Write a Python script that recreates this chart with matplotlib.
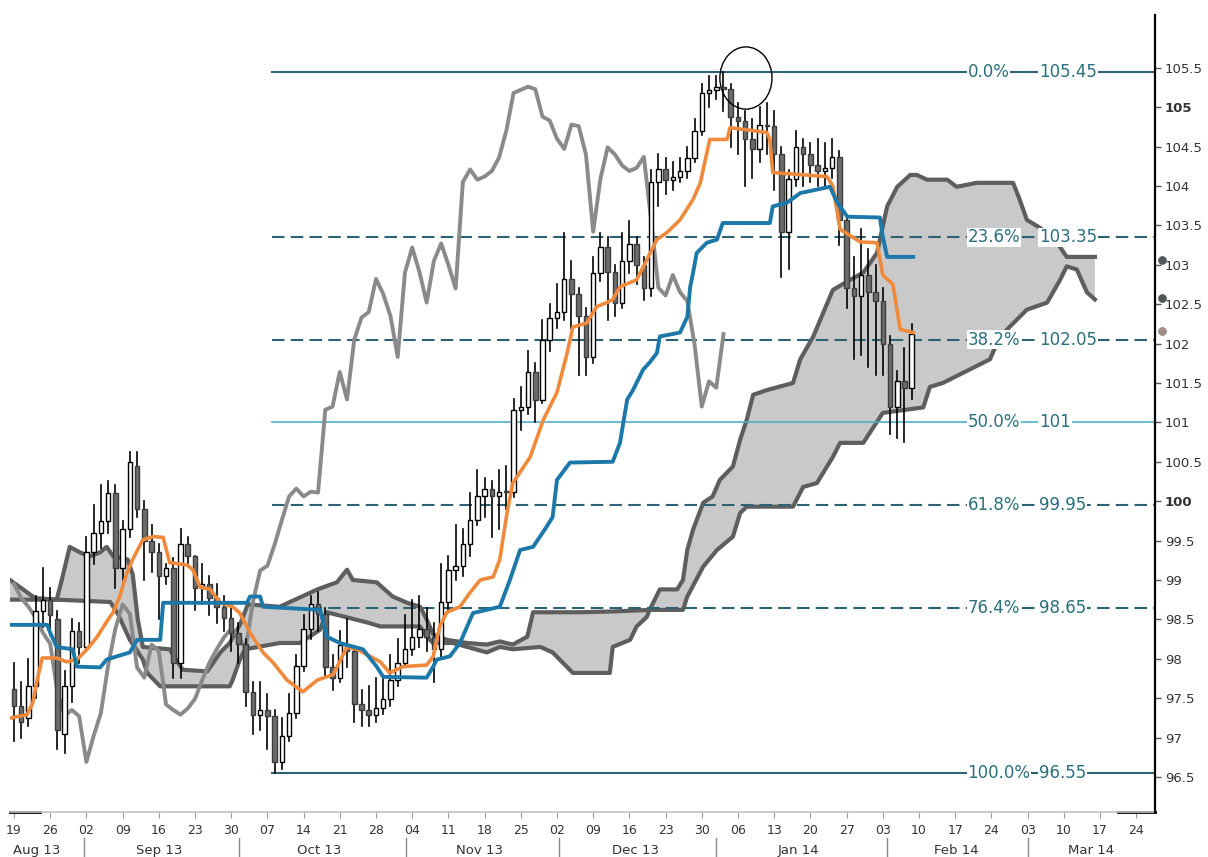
import numpy as np
import matplotlib.pyplot as plt
import matplotlib.transforms as mtransforms
from matplotlib.patches import Rectangle, Ellipse

# daily candles, bar 0 = Mon 19 Aug 2013, 5 bars per week
opens = [97.62, 97.40, 97.25, 97.65, 98.60, 98.75, 98.50, 97.05, 97.65, 98.35,
         98.15, 99.35, 99.60, 99.75, 100.10, 99.15, 99.65, 100.45, 99.90, 99.50,
         99.35, 99.05, 99.15, 97.95, 99.45, 99.30,
         98.90, 98.95, 98.77, 98.66, 98.52, 98.33, 98.19, 97.58, 97.28, 97.35,
         97.27, 96.69, 97.02, 97.31, 97.91, 98.38, 98.69, 98.57, 97.89, 97.76,
         98.18, 98.10, 97.42, 97.35, 97.29, 97.37, 97.49, 97.73, 97.95, 98.12,
         98.27, 98.38, 98.28, 98.13, 98.72, 99.12, 99.18, 99.45, 99.76, 100.06,
         100.16, 100.06, 100.12, 100.11, 101.16, 101.20, 101.64, 101.29, 102.05, 102.33,
         102.40, 102.82, 102.63, 102.35, 101.83, 102.90, 103.22, 102.91, 102.52, 103.05,
         103.27, 103.00, 102.70, 104.05, 104.21, 104.08, 104.12, 104.19, 104.36, 104.70,
         105.18, 105.22, 105.26, 105.23, 104.88, 104.83, 104.60, 104.47, 104.78, 104.76,
         104.40, 103.42, 104.09, 104.49, 104.40, 104.26, 104.19, 104.23, 104.37, 103.57,
         102.71, 102.61, 102.87, 102.65, 102.54, 101.99, 101.20, 101.52, 101.44]
highs = [97.95, 97.70, 98.00, 98.80, 99.15, 98.90, 98.60, 97.85, 98.50, 98.45,
         99.55, 99.95, 100.20, 100.25, 100.20, 99.75, 100.62, 100.62, 100.00, 99.70,
         99.45, 99.20, 99.28, 99.65, 99.55, 99.30,
         99.20, 99.05, 98.95, 98.80, 98.65, 98.45, 98.25, 97.70, 97.70, 97.55,
         97.35, 97.25, 97.55, 98.05, 98.55, 98.80, 98.85, 98.65, 98.05, 98.35,
         98.50, 98.15, 97.60, 97.65, 97.75, 97.80, 98.05, 98.25, 98.55, 98.75,
         98.80, 98.65, 98.45, 99.20, 99.30, 99.70, 99.65, 100.10, 100.40, 100.30,
         100.25, 100.40, 100.45, 101.30, 101.45, 101.90, 101.75, 102.30, 102.50, 102.75,
         103.40, 103.05, 102.70, 102.45, 103.10, 103.40, 103.35, 103.00, 103.40, 103.55,
         103.35, 103.10, 104.20, 104.40, 104.35, 104.30, 104.35, 104.50, 104.85, 105.30,
         105.40, 105.40, 105.45, 105.30, 105.05, 104.95, 104.85, 105.00, 105.05, 104.95,
         104.50, 104.20, 104.70, 104.60, 104.55, 104.60, 104.55, 104.60, 104.45, 103.60,
         103.10, 103.45, 103.20, 103.00, 102.70, 102.10, 101.65, 101.95, 102.25]
lows = [96.95, 97.00, 97.15, 97.50, 98.40, 98.30, 96.85, 96.80, 97.45, 97.95,
        98.10, 99.20, 99.40, 99.60, 98.90, 99.00, 99.55, 99.80, 99.00, 99.10,
        98.50, 98.95, 97.75, 97.75, 99.20, 98.62,
        98.70, 98.55, 98.45, 98.35, 98.10, 97.95, 97.40, 97.05, 97.10, 96.85,
        96.55, 96.60, 96.95, 97.25, 97.85, 98.25, 98.35, 97.75, 97.60, 97.70,
        97.90, 97.20, 97.15, 97.15, 97.20, 97.30, 97.40, 97.65, 97.90, 98.05,
        98.15, 98.10, 97.70, 98.00, 98.60, 99.00, 99.05, 99.30, 99.70, 99.80,
        99.55, 99.65, 99.90, 100.05, 100.90, 101.10, 101.00, 101.25, 101.90, 102.20,
        102.30, 102.20, 101.60, 101.60, 101.75, 102.80, 102.30, 102.35, 102.45, 102.90,
        102.75, 102.55, 102.60, 103.75, 103.90, 103.95, 104.05, 104.10, 104.30, 104.65,
        105.00, 105.10, 104.95, 104.50, 104.40, 104.00, 104.10, 104.30, 104.40, 103.95,
        102.85, 102.95, 104.00, 104.00, 104.05, 104.00, 104.00, 104.10, 103.25, 102.45,
        101.80, 101.85, 101.70, 101.60, 101.60, 100.85, 100.80, 100.75, 101.30]
closes = [97.40, 97.20, 97.65, 98.60, 98.75, 98.55, 97.10, 97.65, 98.35, 98.15,
          99.35, 99.60, 99.75, 100.10, 99.15, 99.65, 100.50, 99.90, 99.50, 99.35,
          99.05, 99.15, 97.95, 99.45, 99.30, 98.90,
          98.95, 98.77, 98.66, 98.52, 98.33, 98.19, 97.58, 97.28, 97.35, 97.27,
          96.69, 97.02, 97.31, 97.91, 98.38, 98.69, 98.57, 97.89, 97.76, 98.18,
          98.10, 97.42, 97.35, 97.29, 97.37, 97.49, 97.73, 97.95, 98.12, 98.27,
          98.38, 98.28, 98.13, 98.72, 99.12, 99.18, 99.45, 99.76, 100.06, 100.16,
          100.06, 100.12, 100.11, 101.16, 101.20, 101.64, 101.29, 102.05, 102.33, 102.40,
          102.82, 102.63, 102.35, 101.83, 102.90, 103.22, 102.91, 102.52, 103.05, 103.27,
          103.00, 102.70, 104.05, 104.21, 104.08, 104.12, 104.19, 104.36, 104.70, 105.18,
          105.22, 105.26, 105.23, 104.88, 104.83, 104.60, 104.47, 104.78, 104.76, 104.40,
          103.42, 104.09, 104.49, 104.40, 104.26, 104.19, 104.23, 104.37, 103.57, 102.71,
          102.61, 102.87, 102.65, 102.54, 101.99, 101.20, 101.52, 101.44, 102.12]
chikou_shift = 26

# Tenkan-sen (orange), bar position / price
tenkan_x = [-0.3, 1.8, 2.6, 3.2, 3.9, 5.9, 7.3, 8.7, 10.1, 11.5, 12.8, 13.7, 14.6, 15.6, 16.4,
            17.8, 19.2, 20.6, 21.5, 23.9, 24.7, 25.7, 27.1, 28.5, 30.2, 31.2, 32.6, 34.4, 35.8,
            37.7, 39.9, 41.9, 44.1, 46.0, 47.4, 49.2, 50.6, 51.9, 53.7, 57.0, 57.9, 58.8, 59.8,
            61.6, 63.0, 64.4, 66.2, 67.1, 68.1, 68.9, 71.3, 73.1, 75.0, 76.4, 77.2, 79.1, 80.5,
            81.9, 82.7, 83.7, 86.0, 87.4, 88.8, 90.2, 92.0, 93.8, 94.8, 96.1, 98.5, 98.9, 104.0,
            104.4, 104.8, 112.3, 113.1, 114.1, 116.9, 119.2, 120.0, 121.4, 122.4, 124.2]
tenkan_y = [97.25, 97.29, 97.44, 97.73, 98.01, 98.01, 97.96, 97.99, 98.12, 98.28, 98.47, 98.59,
            98.79, 99.09, 99.26, 99.51, 99.55, 99.54, 99.22, 99.19, 99.13, 98.91, 98.88, 98.71,
            98.66, 98.58, 98.33, 98.08, 97.95, 97.73, 97.58, 97.73, 97.80, 98.15, 98.12, 98.03,
            97.96, 97.82, 97.90, 97.92, 98.03, 98.41, 98.59, 98.66, 98.84, 99.00, 99.04, 99.26,
            99.85, 100.23, 100.56, 101.03, 101.38, 101.88, 102.21, 102.26, 102.47, 102.52, 102.56,
            102.72, 102.81, 103.06, 103.32, 103.41, 103.57, 103.83, 104.04, 104.59, 104.59, 104.74,
            104.68, 104.59, 104.17, 104.12, 104.00, 103.45, 103.29, 103.28, 102.87, 102.75,
            102.18, 102.14]

# Kijun-sen (blue)
kijun_x = [-0.55, 4.6, 5.0, 5.9, 8.1, 8.7, 11.9, 12.8, 14.2, 16.0, 17.0, 20.2, 20.6, 32.2, 32.6,
           34.0, 34.4, 42.3, 43.2, 45.0, 48.2, 50.1, 51.0, 57.0, 57.9, 58.4, 60.2, 61.6, 63.4,
           67.1, 68.5, 69.9, 71.7, 73.6, 74.4, 75.0, 76.8, 82.7, 83.7, 84.7, 85.5, 86.9, 87.8,
           88.8, 89.2, 92.0, 93.0, 93.4, 93.8, 94.3, 95.7, 97.1, 97.9, 104.4, 104.8, 106.8, 108.6,
           112.7, 113.7, 115.1, 119.6, 120.0, 120.6, 124.2]
kijun_y = [98.43, 98.43, 98.33, 98.15, 98.12, 97.90, 97.89, 97.99, 98.03, 98.08, 98.24, 98.24,
           98.71, 98.71, 98.79, 98.79, 98.66, 98.62, 98.28, 98.20, 98.12, 97.90, 97.77, 97.76,
           97.90, 97.99, 98.03, 98.20, 98.58, 98.66, 99.00, 99.38, 99.42, 99.68, 99.80, 100.27,
           100.49, 100.50, 100.74, 101.29, 101.41, 101.67, 101.76, 101.88, 102.09, 102.14, 102.34,
           102.72, 102.90, 103.15, 103.28, 103.32, 103.53, 103.53, 103.74, 103.79, 103.91, 103.99,
           103.79, 103.61, 103.60, 103.36, 103.10, 103.10]

# cloud edges (upper and lower envelope of the two senkou spans)
cloud_top_x = [-0.55, 2.9, 5.9, 6.6, 7.7, 9.1, 10.5, 11.9, 12.8, 13.7, 15.7, 16.4, 17.1, 17.8,
               21.5, 23.3, 26.7, 28.5, 29.8, 31.2, 32.3, 36.7, 41.9, 44.6, 46.0, 46.8, 50.1, 52.3,
               54.3, 56.1, 57.0, 57.9, 59.8, 62.6, 65.3, 67.1, 68.9, 70.9, 71.7, 78.2, 82.7, 87.8,
               89.2, 91.6, 92.4, 93.0, 93.8, 95.2, 96.5, 97.5, 99.3, 100.3, 101.2, 102.1, 104.0,
               107.6, 108.6, 110.4, 113.1, 115.5, 117.3, 119.2, 120.6, 122.0, 123.8, 124.7, 126.1,
               128.9, 130.2, 133.0, 138.0, 138.9, 139.9, 141.7, 143.8, 145.4, 149.3]
cloud_top_y = [99.00, 98.77, 98.75, 99.00, 99.42, 99.35, 99.30, 99.35, 99.42, 99.30, 99.26, 99.07,
               98.50, 98.15, 98.12, 97.86, 97.84, 98.08, 98.20, 98.43, 98.69, 98.66, 98.88, 98.97,
               99.13, 99.00, 98.97, 98.79, 98.71, 98.66, 98.50, 98.31, 98.24, 98.20, 98.18, 98.22,
               98.18, 98.28, 98.59, 98.59, 98.60, 98.62, 98.88, 98.88, 99.00, 99.38, 99.64, 99.98,
               100.06, 100.27, 100.44, 100.78, 101.03, 101.35, 101.41, 101.50, 101.80, 102.09,
               102.68, 102.81, 102.90, 103.15, 103.74, 103.99, 104.14, 104.14, 104.08, 104.08,
               103.99, 104.04, 104.04, 103.83, 103.57, 103.47, 103.32, 103.10, 103.10]
cloud_bot_x = [-0.55, 5.9, 13.3, 14.4, 16.0, 17.8, 18.4, 20.2, 29.8, 30.2, 31.2, 31.9, 36.7, 39.5,
               42.3, 43.2, 48.8, 50.6, 56.1, 57.0, 57.9, 60.6, 62.6, 65.3, 67.1, 68.9, 72.7, 74.4,
               77.2, 82.3, 82.7, 85.1, 86.0, 87.4, 87.8, 92.4, 93.0, 95.2, 97.1, 99.3, 100.3, 101.2,
               107.6, 109.0, 110.9, 113.1, 114.1, 117.3, 120.0, 125.6, 126.5, 128.3, 134.8, 136.2,
               139.9, 142.7, 144.5, 145.4, 146.8, 148.2, 149.3]
cloud_bot_y = [98.75, 98.75, 98.72, 98.56, 98.24, 97.99, 97.82, 97.65, 97.65, 97.73, 97.99, 98.12,
               98.20, 98.20, 98.37, 98.59, 98.46, 98.41, 98.41, 98.28, 98.20, 98.20, 98.15, 98.08,
               98.15, 98.12, 98.15, 98.08, 97.82, 97.82, 98.15, 98.24, 98.41, 98.53, 98.62, 98.62,
               98.79, 99.17, 99.38, 99.55, 99.85, 99.93, 99.93, 100.18, 100.23, 100.56, 100.74,
               100.74, 101.12, 101.19, 101.45, 101.50, 101.80, 102.09, 102.43, 102.52, 102.81,
               102.98, 102.94, 102.65, 102.56]

# fibonacci retracement
fib_pcts = ['0.0%', '23.6%', '38.2%', '50.0%', '61.8%', '76.4%', '100.0%']
fib_levels = [105.45, 103.35, 102.05, 101.0, 99.95, 98.65, 96.55]
fib_values = ['105.45', '103.35', '102.05', '101', '99.95', '98.65', '96.55']
fib_styles = ['-', '--', '--', '-', '--', '--', '-']
fib_colors = ['#2d6272', '#2d6272', '#2d6272', '#4fb0c8', '#2d6272', '#2d6272', '#2d6272']
fib_start = 35.6

week_labels = ['19', '26', '02', '09', '16', '23', '30', '07', '14', '21', '28', '04', '11', '18',
               '25', '02', '09', '16', '23', '30', '06', '13', '20', '27', '03', '10', '17', '24',
               '03', '10', '17', '24']
month_names = ['Aug 13', 'Sep 13', 'Oct 13', 'Nov 13', 'Dec 13', 'Jan 14', 'Feb 14', 'Mar 14']
month_centers = [3.2, 20.0, 42.2, 64.3, 85.9, 108.3, 130.1, 148.8]
month_breaks = [9.7, 31.1, 54.1, 75.3, 97.0, 120.6, 140.1]

end_marks = [103.06, 102.58, 102.16]
end_colors = ['#555555', '#555555', '#a38c82']

fig = plt.figure(figsize=(12.08, 8.57), dpi=100)
ax = fig.add_axes([10 / 1208, 45 / 857, 1145 / 1208, 797 / 857])
ax.set_xlim(-0.55, 157.6)
ax.set_ylim(96.055, 106.17)

# cloud
poly_x = np.concatenate([cloud_top_x, cloud_bot_x[::-1]])
poly_y = np.concatenate([cloud_top_y, cloud_bot_y[::-1]])
ax.fill(poly_x, poly_y, color='#c9c9c9', lw=0, zorder=1)
ax.plot(cloud_top_x, cloud_top_y, color='#5e5e5e', lw=3, zorder=2)
ax.plot(cloud_bot_x, cloud_bot_y, color='#5e5e5e', lw=3, zorder=2)

# fib lines and labels
for pct, lvl, txt, ls, col in zip(fib_pcts, fib_levels, fib_values, fib_styles, fib_colors):
    lw = 1.2 if pct == '50.0%' else 1.5
    ax.plot([fib_start, 157.6], [lvl, lvl], color=col, lw=lw, ls=ls, dashes=(6, 3) if ls == '--' else (None, None), zorder=2.5)
    ax.text(131.7, lvl, pct, color='#2a6f7c', fontsize=12, ha='left', va='center', zorder=7,
            bbox=dict(facecolor='white', edgecolor='none', pad=0.5))
    ax.text(141.6, lvl, txt, color='#2a6f7c', fontsize=12, ha='left', va='center', zorder=7,
            bbox=dict(facecolor='white', edgecolor='none', pad=0.5))

# chikou span
chikou_x = np.arange(chikou_shift, len(closes)) - chikou_shift
ax.plot(chikou_x, closes[chikou_shift:], color='#8a8a8a', lw=2.8, zorder=3)

# candles
w = 0.62
for i, (o, h, l, c) in enumerate(zip(opens, highs, lows, closes)):
    ax.plot([i, i], [l, h], color='black', lw=1.2, zorder=4)
    lo = min(o, c)
    hgt = max(abs(c - o), 0.02)
    if c >= o:
        fc, ec = 'white', 'black'
    else:
        fc, ec = '#6c6c6c', '#3c3c3c'
    ax.add_patch(Rectangle((i - w / 2, lo), w, hgt, facecolor=fc, edgecolor=ec, lw=1, zorder=4.5))

ax.plot(tenkan_x, tenkan_y, color='#ef8a3c', lw=2.6, zorder=5)
ax.plot(kijun_x, kijun_y, color='#1b78a8', lw=2.8, zorder=5)

ax.add_patch(Ellipse((101.1, 105.37), 7.2, 0.79, fill=False, edgecolor='black', lw=1, zorder=6))

# last value markers beside the price axis
ax.plot([158.6] * 3, end_marks, 'o', ms=6, mec='none', clip_on=False, zorder=8)
for v, col in zip(end_marks, end_colors):
    ax.plot(158.6, v, 'o', ms=6, color=col, mec='none', clip_on=False, zorder=8)

# axes styling
for s in ['left', 'top']:
    ax.spines[s].set_visible(False)
ax.spines['right'].set_color('black')
ax.spines['right'].set_linewidth(1.6)
ax.spines['bottom'].set_color('#c4c4c4')
ax.spines['bottom'].set_linewidth(1.2)
ax.spines['bottom'].set_linestyle((0, (2, 1)))

yt = np.arange(96.5, 105.51, 0.5)
ax.yaxis.tick_right()
ax.set_yticks(yt)
ax.set_yticklabels([('%d' % v) if v == int(v) else ('%.1f' % v) for v in yt], fontsize=9.5, color='#333333')
for lab, v in zip(ax.get_yticklabels(), yt):
    if v in (105.0, 100.0):
        lab.set_fontweight('bold')
ax.tick_params(axis='y', direction='out', length=4, width=1, color='#555555', pad=3)

ax.set_xticks(np.arange(0, 5 * len(week_labels), 5))
ax.set_xticklabels(week_labels, fontsize=9, color='#333333')
ax.tick_params(axis='x', direction='out', length=4, color='#999999', pad=5)

trans = mtransforms.blended_transform_factory(ax.transData, ax.transAxes)
for name, xc in zip(month_names, month_centers):
    ax.text(xc, -0.048, name, transform=trans, ha='center', va='center', fontsize=9.5, color='#333333', clip_on=False)
for xb in month_breaks:
    ax.plot([xb, xb], [-0.033, -0.055], transform=trans, color='#888888', lw=1, clip_on=False)
ax.plot([-0.55, 3.6], [0, 0], transform=trans, color='black', lw=2, clip_on=False)
ax.plot([152.5, 157.6], [0, 0], transform=trans, color='black', lw=2, clip_on=False)

fig.savefig('out.png', dpi=100)
